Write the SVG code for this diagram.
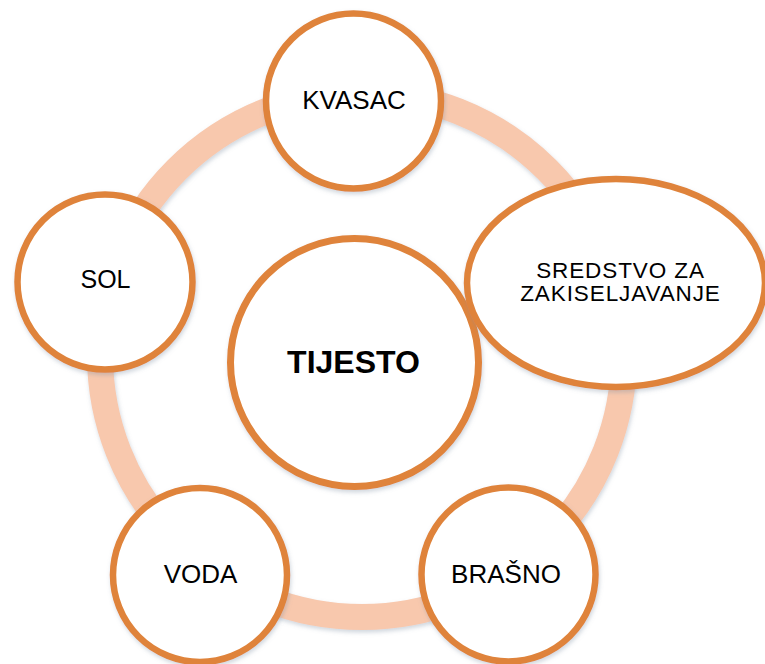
<svg xmlns="http://www.w3.org/2000/svg" width="765" height="664" viewBox="0 0 765 664">
  <defs>
    <filter id="sh" x="-20%" y="-20%" width="140%" height="140%">
      <feDropShadow dx="1" dy="2.5" stdDeviation="2" flood-color="#7a8aa0" flood-opacity="0.35"/>
    </filter>
  </defs>
  <style>
    .node { fill: #ffffff; stroke: #DF833A; stroke-width: 6.5; filter: url(#sh); }
    .lbl { font-family: "Liberation Sans", Arial, sans-serif; font-size: 26px; fill: #000000; text-anchor: middle; }
    .ring { fill: none; stroke: #F8C8AD; stroke-width: 26; filter: url(#sh); }
    .small { font-size: 22.5px; letter-spacing: 0.9px; }
  </style>
  <rect width="765" height="664" fill="#ffffff"/>
  <g id="connectors">
    <circle class="ring" cx="362" cy="355" r="262"/>
  </g>
  <g id="tijesto">
    <circle class="node" cx="354.5" cy="362.5" r="124" style="stroke-width:7"/>
    <text class="lbl" x="353.5" y="373" style="font-size:32px;font-weight:bold">TIJESTO</text>
  </g>
  <g id="kvasac">
    <circle class="node" cx="353.5" cy="101" r="87.5"/>
    <text class="lbl" x="354" y="109">KVASAC</text>
  </g>
  <g id="sredstvo">
    <ellipse class="node" cx="616" cy="283" rx="149" ry="104"/>
    <text class="lbl small" x="620.5" y="277.5">SREDSTVO ZA</text>
    <text class="lbl small" x="620.5" y="300.5">ZAKISELJAVANJE</text>
  </g>
  <g id="sol">
    <circle class="node" cx="105" cy="282" r="87.5"/>
    <text class="lbl" x="105.5" y="288" style="font-size:25px">SOL</text>
  </g>
  <g id="voda">
    <circle class="node" cx="200" cy="575" r="87"/>
    <text class="lbl" x="200.5" y="583">VODA</text>
  </g>
  <g id="brasno">
    <circle class="node" cx="508.5" cy="574.5" r="87"/>
    <text class="lbl" x="506" y="583">BRAŠNO</text>
  </g>
</svg>
